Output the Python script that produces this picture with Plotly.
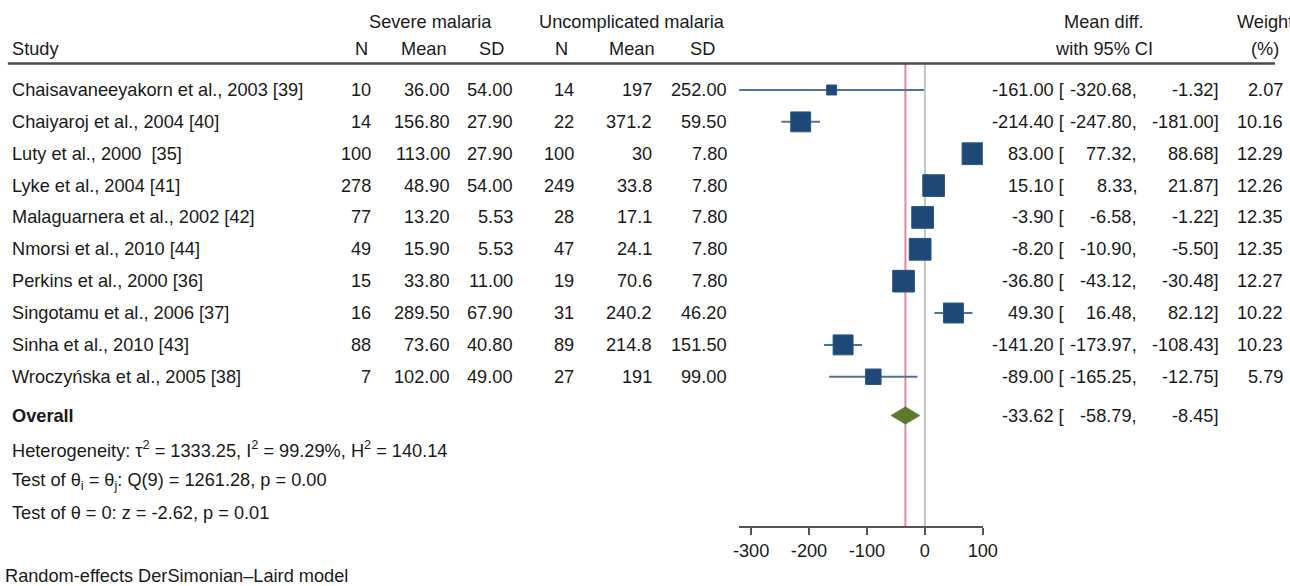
import plotly.graph_objects as go
import numpy as np

W, H = 1290, 586

studies = [
    "Chaisavaneeyakorn et al., 2003 [39]",
    "Chaiyaroj et al., 2004 [40]",
    "Luty et al., 2000 \u00a0[35]",
    "Lyke et al., 2004 [41]",
    "Malaguarnera et al., 2002 [42]",
    "Nmorsi et al., 2010 [44]",
    "Perkins et al., 2000 [36]",
    "Singotamu et al., 2006 [37]",
    "Sinha et al., 2010 [43]",
    "Wroczyńska et al., 2005 [38]",
]
n1 = [10, 14, 100, 278, 77, 49, 15, 16, 88, 7]
mean1 = [36.00, 156.80, 113.00, 48.90, 13.20, 15.90, 33.80, 289.50, 73.60, 102.00]
sd1 = [54.00, 27.90, 27.90, 54.00, 5.53, 5.53, 11.00, 67.90, 40.80, 49.00]
n2 = [14, 22, 100, 249, 28, 47, 19, 31, 89, 27]
mean2 = [197, 371.2, 30, 33.8, 17.1, 24.1, 70.6, 240.2, 214.8, 191]
sd2 = [252.00, 59.50, 7.80, 7.80, 7.80, 7.80, 7.80, 46.20, 151.50, 99.00]
md = [-161.00, -214.40, 83.00, 15.10, -3.90, -8.20, -36.80, 49.30, -141.20, -89.00]
lo = [-320.68, -247.80, 77.32, 8.33, -6.58, -10.90, -43.12, 16.48, -173.97, -165.25]
hi = [-1.32, -181.00, 88.68, 21.87, -1.22, -5.50, -30.48, 82.12, -108.43, -12.75]
wt = [2.07, 10.16, 12.29, 12.26, 12.35, 12.35, 12.27, 10.22, 10.23, 5.79]
overall_md, overall_lo, overall_hi = -33.62, -58.79, -8.45
het_lines = [
    "Heterogeneity: τ<sup>2</sup> = 1333.25, I<sup>2</sup> = 99.29%, H<sup>2</sup> = 140.14",
    "Test of θ<sub>i</sub> = θ<sub>j</sub>: Q(9) = 1261.28, p = 0.00",
    "Test of θ = 0: z = -2.62, p = 0.01",
]
xticks = [-300, -200, -100, 0, 100]
note = "Random-effects DerSimonian–Laird model"

FONT = "Liberation Sans, Arial, sans-serif"
FS = 18.2
TXT = "#1a1a1a"

# horizontal calibration of the rendered page (observed = OFF + SC * intended)
OFF, SC = 8.2, 0.981


def fx(p):
    return (p - OFF) / (SC * W)


# layout (pixel rows)
row0, drow = 90, 31.86
rows_y = [row0 + drow * i for i in range(len(studies))]
overall_y = 415.5
het_y = [449, 481, 513]
axis_y = 527.3
line_top = 63.5
x_left_px, x_right_px = 739.3, 982.3

fig = go.Figure()

# CI lines
cx, cy = [], []
for l, h, y in zip(lo, hi, rows_y):
    cx += [l, h, None]
    cy += [y, y, None]
fig.add_trace(go.Scatter(x=cx, y=cy, mode="lines",
                         line=dict(color="#4f7399", width=2), hoverinfo="skip"))
# squares
sizes = [1.8 + 5.68 * np.sqrt(w) for w in wt]
fig.add_trace(go.Scatter(x=md, y=rows_y, mode="markers",
                         marker=dict(symbol="square", size=sizes, color="#1e4876", opacity=1,
                                     line=dict(color="#2b5684", width=1)),
                         hoverinfo="skip"))
# diamond
dh = 8.7
fig.add_trace(go.Scatter(
    x=[overall_lo, overall_md, overall_hi, overall_md, overall_lo],
    y=[overall_y, overall_y - dh, overall_y, overall_y + dh, overall_y],
    mode="lines", fill="toself", fillcolor="#5a7b2c",
    line=dict(color="#5a7b2c", width=0.5), hoverinfo="skip"))

shapes = [
    dict(type="line", xref="paper", yref="y", x0=fx(10), x1=1.0, y0=line_top, y1=line_top,
         line=dict(color="#4a4a4a", width=2.5)),
    dict(type="line", xref="x", yref="y", x0=0, x1=0, y0=line_top, y1=axis_y,
         line=dict(color="#c4c4c4", width=2), layer="below"),
    dict(type="line", xref="x", yref="y", x0=overall_md, x1=overall_md, y0=line_top, y1=axis_y,
         line=dict(color="#e5879d", width=2), layer="below"),
]

ann = []


def txt(xpx, y, s, anchor="right", size=FS):
    ann.append(dict(x=fx(xpx), xref="paper", y=y, yref="y", text=s, showarrow=False,
                    xanchor=anchor, yanchor="middle", borderpad=0,
                    font=dict(family=FONT, size=size, color=TXT)))


# headers
txt(432, 22, "Severe malaria", "center")
txt(632, 22, "Uncomplicated malaria", "center")
txt(13, 49, "Study", "left")
for xc, s in [(363, "N"), (425, "Mean"), (492, "SD"), (562, "N"), (632, "Mean"), (703, "SD")]:
    txt(xc, 49, s, "center")
txt(1103, 22, "Mean diff.", "center")
txt(1103, 49, "with 95% CI", "center")
txt(1264, 22, "Weight", "center")
txt(1264, 49, "(%)", "center")

for i, y in enumerate(rows_y):
    txt(13, y, studies[i], "left")
    txt(373, y, f"{n1[i]}")
    txt(452, y, f"{mean1[i]:.2f}")
    txt(515, y, f"{sd1[i]:.2f}")
    txt(576, y, f"{n2[i]}")
    txt(653, y, f"{mean2[i]:g}")
    txt(728, y, f"{sd2[i]:.2f}")
    txt(1064, y, f"{md[i]:.2f} [")
    txt(1137, y, f"{lo[i]:.2f},")
    txt(1219, y, f"{hi[i]:.2f}]")
    txt(1283, y, f"{wt[i]:.2f}")

txt(13, overall_y, "<b>Overall</b>", "left")
txt(1064, overall_y, f"{overall_md:.2f} [")
txt(1137, overall_y, f"{overall_lo:.2f},")
txt(1219, overall_y, f"{overall_hi:.2f}]")
for y, s in zip(het_y, het_lines):
    txt(13, y, s, "left")
txt(6, 576, note, "left")

fig.update_layout(
    width=W, height=H, margin=dict(l=0, r=0, t=0, b=0), autosize=False,
    paper_bgcolor="white", plot_bgcolor="white", showlegend=False,
    shapes=shapes, annotations=ann,
    font=dict(family=FONT, size=FS, color=TXT),
    xaxis=dict(domain=[fx(x_left_px), fx(x_right_px)], range=[lo[0], 100],
               anchor="free", position=(H - axis_y) / H,
               showline=True, linecolor="#555555", linewidth=1.5,
               ticks="outside", ticklen=7, tickwidth=1.5, tickcolor="#555555",
               tickvals=xticks, ticktext=[str(t) for t in xticks],
               tickfont=dict(family=FONT, size=FS, color=TXT),
               showgrid=False, zeroline=False, fixedrange=True),
    yaxis=dict(domain=[0, 1], range=[H, 0], visible=False, fixedrange=True),
)

fig.write_html("out.html", config={"displayModeBar": False})
